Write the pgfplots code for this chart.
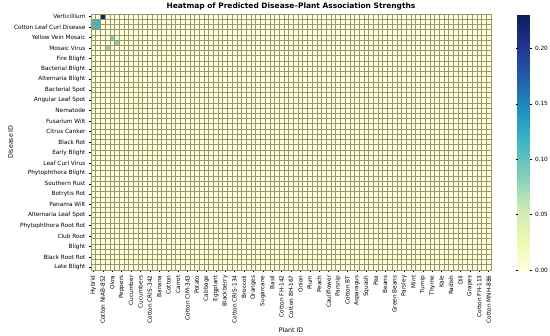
\documentclass[border=0pt]{standalone}
\usepackage{fontspec}
\setmainfont{DejaVu Sans}
\usepackage{pgfplots}
\pgfplotsset{compat=1.18}
\definecolor{gridcol}{RGB}{150,150,110}
\definecolor{zerocol}{RGB}{255,255,217}
\begin{document}
\begin{tikzpicture}
\begin{axis}[
  scale only axis,
  width=400bp, height=256bp,
  at={(0,0)}, anchor=south west,
  xmin=-0.5, xmax=84.5, ymin=-0.5, ymax=48.5,
  enlargelimits=false,
  axis background/.style={fill=zerocol},
  colormap={ylgnbu}{rgb255(0cm)=(255,255,217) rgb255(1cm)=(237,248,177) rgb255(2cm)=(199,233,180) rgb255(3cm)=(127,205,187) rgb255(4cm)=(65,182,196) rgb255(5cm)=(29,145,192) rgb255(6cm)=(34,94,168) rgb255(7cm)=(37,52,148) rgb255(8cm)=(8,29,88)},
  point meta min=0, point meta max=0.231,
  colorbar,
  colorbar style={
    at={(parent axis.north east)}, anchor=north west, xshift=18bp,
    width=12bp,
    ytick={0,0.05,0.1,0.15,0.2},
    yticklabels={0.00,0.05,0.10,0.15,0.20},
    axis line style={draw=none},
    major tick length=2bp, tick align=outside,
    major tick style={black, line width=0.4bp},
    yticklabel style={font=\fontsize{5.8}{6.8}\selectfont},
  },
  xtick={0,2,...,84},
  xticklabels={Hybrid,Cotton NIAB-852,Okra,Peppers,Cucumber,Cucumbers,Cotton CRIS-342,Banana,Cotton,Carrot,Cotton CIM-343,Potato,Cabbage,Eggplant,Blackberry,Cotton CRIS-134,Broccoli,Oranges,Sugarcane,Basil,Cotton FH-142,Cotton BH-167,Onion,Plum,Peach,Cauliflower,Parsnip,Cotton BT,Asparagus,Squash,Pea,Beans,Green Beans,Parsley,Mint,Turnip,Thyme,Kale,Radish,Dill,Grapes,Cotton FH-113,Cotton MNH-886},
  ytick={0,2,...,48},
  yticklabels={Late Blight,Black Root Rot,Blight,Club Root,Phytophthora Root Rot,Alternaria Leaf Spot,Panama Wilt,Botrytis Rot,Southern Rust,Phytophthora Blight,Leaf Curl Virus,Early Blight,Black Rot,Citrus Canker,Fusarium Wilt,Nematode,Angular Leaf Spot,Bacterial Spot,Alternaria Blight,Bacterial Blight,Fire Blight,Mosaic Virus,Yellow Vein Mosaic,Cotton Leaf Curl Disease,Verticillium},
  minor xtick={-0.5,0.5,...,84.5},
  minor ytick={-0.5,0.5,...,48.5},
  xminorgrids, yminorgrids,
  minor grid style={gridcol, line width=0.6bp},
  minor tick length=0pt,
  major tick length=2bp,
  tick align=outside,
  tick pos=left,
  major tick style={black, line width=0.4bp},
  axis line style={gridcol, line width=0.6bp},
  axis on top,
  ticklabel style={font=\fontsize{5.8}{6.8}\selectfont},
  xticklabel style={rotate=90, anchor=east},
  every axis title shift=0pt,
  title={Heatmap of Predicted Disease–Plant Association Strengths},
  title style={font=\bfseries\fontsize{7.5}{9}\selectfont, at={(axis description cs:0.5,1.029)}, anchor=center, yshift=0pt},
  xlabel={Plant ID},
  xlabel style={font=\fontsize{6.3}{7.5}\selectfont, at={(axis description cs:0.5,-0.234)}, anchor=center},
  ylabel={Disease ID},
  ylabel style={font=\fontsize{6.3}{7.5}\selectfont, at={(axis description cs:-0.201,0.5)}, anchor=center},
]
\addplot[matrix plot*, mesh/cols=16, point meta=explicit] coordinates {
(0,23)[0] (1,23)[0] (2,23)[0] (3,23)[0] (4,23)[0] (5,23)[0] (6,23)[0] (7,23)[0] (8,23)[0] (9,23)[0] (10,23)[0] (11,23)[0] (12,23)[0.008] (13,23)[0] (14,23)[0] (15,23)[0]
(0,24)[0] (1,24)[0] (2,24)[0] (3,24)[0] (4,24)[0] (5,24)[0] (6,24)[0] (7,24)[0] (8,24)[0] (9,24)[0] (10,24)[0] (11,24)[0] (12,24)[0] (13,24)[0] (14,24)[0] (15,24)[0]
(0,25)[0] (1,25)[0] (2,25)[0] (3,25)[0] (4,25)[0] (5,25)[0] (6,25)[0] (7,25)[0] (8,25)[0] (9,25)[0] (10,25)[0] (11,25)[0] (12,25)[0] (13,25)[0] (14,25)[0] (15,25)[0]
(0,26)[0] (1,26)[0] (2,26)[0] (3,26)[0] (4,26)[0] (5,26)[0] (6,26)[0] (7,26)[0] (8,26)[0] (9,26)[0] (10,26)[0] (11,26)[0] (12,26)[0] (13,26)[0] (14,26)[0] (15,26)[0]
(0,27)[0] (1,27)[0] (2,27)[0] (3,27)[0] (4,27)[0] (5,27)[0] (6,27)[0] (7,27)[0] (8,27)[0] (9,27)[0] (10,27)[0] (11,27)[0] (12,27)[0] (13,27)[0] (14,27)[0] (15,27)[0]
(0,28)[0] (1,28)[0] (2,28)[0] (3,28)[0] (4,28)[0] (5,28)[0] (6,28)[0] (7,28)[0] (8,28)[0] (9,28)[0] (10,28)[0] (11,28)[0] (12,28)[0] (13,28)[0] (14,28)[0] (15,28)[0]
(0,29)[0] (1,29)[0] (2,29)[0] (3,29)[0] (4,29)[0] (5,29)[0] (6,29)[0] (7,29)[0] (8,29)[0] (9,29)[0] (10,29)[0] (11,29)[0] (12,29)[0] (13,29)[0] (14,29)[0] (15,29)[0]
(0,30)[0] (1,30)[0] (2,30)[0] (3,30)[0] (4,30)[0] (5,30)[0] (6,30)[0] (7,30)[0] (8,30)[0] (9,30)[0] (10,30)[0] (11,30)[0] (12,30)[0] (13,30)[0] (14,30)[0] (15,30)[0]
(0,31)[0] (1,31)[0] (2,31)[0] (3,31)[0] (4,31)[0] (5,31)[0] (6,31)[0] (7,31)[0] (8,31)[0] (9,31)[0.008] (10,31)[0] (11,31)[0] (12,31)[0] (13,31)[0] (14,31)[0] (15,31)[0]
(0,32)[0] (1,32)[0] (2,32)[0] (3,32)[0] (4,32)[0] (5,32)[0] (6,32)[0] (7,32)[0] (8,32)[0] (9,32)[0] (10,32)[0.010] (11,32)[0] (12,32)[0] (13,32)[0] (14,32)[0] (15,32)[0]
(0,33)[0] (1,33)[0] (2,33)[0] (3,33)[0] (4,33)[0] (5,33)[0] (6,33)[0] (7,33)[0] (8,33)[0] (9,33)[0] (10,33)[0] (11,33)[0.010] (12,33)[0] (13,33)[0] (14,33)[0] (15,33)[0]
(0,34)[0] (1,34)[0] (2,34)[0] (3,34)[0] (4,34)[0] (5,34)[0] (6,34)[0.010] (7,34)[0] (8,34)[0] (9,34)[0] (10,34)[0] (11,34)[0] (12,34)[0] (13,34)[0] (14,34)[0] (15,34)[0]
(0,35)[0] (1,35)[0] (2,35)[0] (3,35)[0] (4,35)[0] (5,35)[0] (6,35)[0] (7,35)[0] (8,35)[0.012] (9,35)[0] (10,35)[0] (11,35)[0] (12,35)[0] (13,35)[0] (14,35)[0] (15,35)[0]
(0,36)[0] (1,36)[0] (2,36)[0] (3,36)[0] (4,36)[0] (5,36)[0] (6,36)[0] (7,36)[0] (8,36)[0] (9,36)[0] (10,36)[0] (11,36)[0] (12,36)[0] (13,36)[0] (14,36)[0] (15,36)[0]
(0,37)[0] (1,37)[0] (2,37)[0] (3,37)[0] (4,37)[0] (5,37)[0] (6,37)[0] (7,37)[0] (8,37)[0] (9,37)[0] (10,37)[0] (11,37)[0] (12,37)[0] (13,37)[0] (14,37)[0] (15,37)[0]
(0,38)[0] (1,38)[0] (2,38)[0] (3,38)[0] (4,38)[0] (5,38)[0] (6,38)[0] (7,38)[0] (8,38)[0] (9,38)[0] (10,38)[0] (11,38)[0] (12,38)[0] (13,38)[0] (14,38)[0] (15,38)[0]
(0,39)[0] (1,39)[0] (2,39)[0] (3,39)[0] (4,39)[0] (5,39)[0] (6,39)[0] (7,39)[0] (8,39)[0] (9,39)[0] (10,39)[0] (11,39)[0] (12,39)[0] (13,39)[0] (14,39)[0] (15,39)[0]
(0,40)[0] (1,40)[0] (2,40)[0] (3,40)[0] (4,40)[0] (5,40)[0] (6,40)[0] (7,40)[0.012] (8,40)[0] (9,40)[0] (10,40)[0] (11,40)[0] (12,40)[0] (13,40)[0] (14,40)[0] (15,40)[0.010]
(0,41)[0] (1,41)[0] (2,41)[0] (3,41)[0] (4,41)[0] (5,41)[0] (6,41)[0] (7,41)[0] (8,41)[0] (9,41)[0] (10,41)[0] (11,41)[0] (12,41)[0] (13,41)[0] (14,41)[0] (15,41)[0]
(0,42)[0] (1,42)[0] (2,42)[0] (3,42)[0.080] (4,42)[0] (5,42)[0] (6,42)[0] (7,42)[0] (8,42)[0] (9,42)[0] (10,42)[0] (11,42)[0] (12,42)[0] (13,42)[0] (14,42)[0] (15,42)[0]
(0,43)[0] (1,43)[0] (2,43)[0] (3,43)[0] (4,43)[0] (5,43)[0.085] (6,43)[0] (7,43)[0] (8,43)[0] (9,43)[0] (10,43)[0] (11,43)[0] (12,43)[0] (13,43)[0] (14,43)[0] (15,43)[0]
(0,44)[0] (1,44)[0] (2,44)[0] (3,44)[0] (4,44)[0.085] (5,44)[0] (6,44)[0] (7,44)[0] (8,44)[0] (9,44)[0] (10,44)[0] (11,44)[0] (12,44)[0] (13,44)[0] (14,44)[0] (15,44)[0]
(0,45)[0] (1,45)[0] (2,45)[0] (3,45)[0] (4,45)[0] (5,45)[0] (6,45)[0] (7,45)[0] (8,45)[0] (9,45)[0] (10,45)[0] (11,45)[0] (12,45)[0] (13,45)[0] (14,45)[0] (15,45)[0]
(0,46)[0.115] (1,46)[0.115] (2,46)[0] (3,46)[0] (4,46)[0] (5,46)[0] (6,46)[0] (7,46)[0] (8,46)[0] (9,46)[0] (10,46)[0] (11,46)[0] (12,46)[0] (13,46)[0] (14,46)[0] (15,46)[0]
(0,47)[0.115] (1,47)[0.115] (2,47)[0] (3,47)[0] (4,47)[0] (5,47)[0] (6,47)[0] (7,47)[0] (8,47)[0] (9,47)[0] (10,47)[0] (11,47)[0] (12,47)[0] (13,47)[0] (14,47)[0] (15,47)[0]
(0,48)[0] (1,48)[0] (2,48)[0.225] (3,48)[0] (4,48)[0] (5,48)[0] (6,48)[0] (7,48)[0] (8,48)[0] (9,48)[0] (10,48)[0] (11,48)[0] (12,48)[0] (13,48)[0] (14,48)[0] (15,48)[0]
};
\end{axis}
\pgfresetboundingbox
\path[use as bounding box] (-91bp,-66bp) rectangle (459bp,270bp);
\end{tikzpicture}
\end{document}
